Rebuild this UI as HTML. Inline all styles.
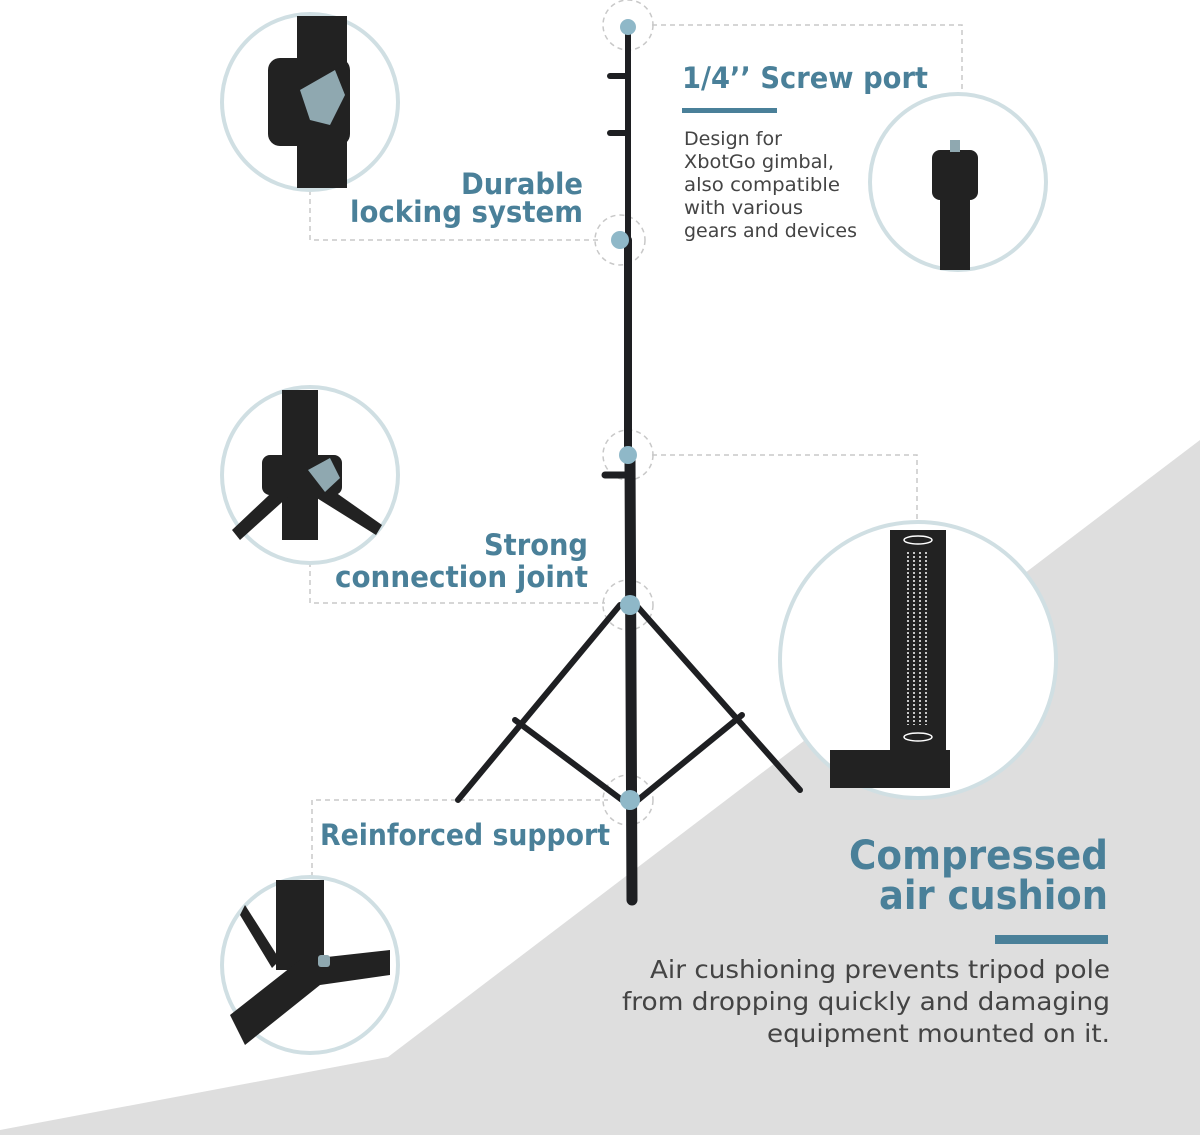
<!DOCTYPE html>
<html><head><meta charset="utf-8"><style>
body{margin:0;background:#fff;}
svg{display:block}
text{font-family:"DejaVu Sans","Liberation Sans",sans-serif}
</style></head><body>
<svg width="1200" height="1135" viewBox="0 0 1200 1135" xmlns="http://www.w3.org/2000/svg">
<rect width="1200" height="1135" fill="#fff"/>
<polygon points="1200,440 1200,1135 0,1135 0,1130 388,1057" fill="#dedede"/>
<!-- dashed connectors -->
<g stroke="#c8c8c8" stroke-width="1.5" stroke-dasharray="5,4" fill="none">
<polyline points="652,25 962,25 962,95"/>
<polyline points="310,190 310,240 598,240"/>
<polyline points="310,562 310,603 605,603"/>
<polyline points="312,877 312,800 608,800"/>
<polyline points="652,455 917,455 917,522"/>
<circle cx="628" cy="25" r="25"/>
<circle cx="620" cy="240" r="25"/>
<circle cx="628" cy="455" r="25"/>
<circle cx="628" cy="605" r="25"/>
<circle cx="628" cy="800" r="25"/>
</g>
<!-- tripod -->
<g stroke="#1e1f22" stroke-linecap="round" fill="none">
<line x1="628" y1="30" x2="628" y2="240" stroke-width="6"/>
<line x1="628" y1="240" x2="628" y2="460" stroke-width="8"/>
<line x1="630" y1="460" x2="632" y2="900" stroke-width="11"/>
<line x1="620" y1="605" x2="458" y2="800" stroke-width="6"/>
<line x1="636" y1="605" x2="800" y2="790" stroke-width="6"/>
<line x1="515" y1="720" x2="622" y2="800" stroke-width="6"/>
<line x1="742" y1="715" x2="638" y2="800" stroke-width="6"/>
<line x1="610" y1="76" x2="628" y2="76" stroke-width="6"/>
<line x1="610" y1="133" x2="628" y2="133" stroke-width="6"/>
<line x1="605" y1="475" x2="628" y2="475" stroke-width="7"/>
</g>
<g fill="#8fb8c8">
<circle cx="628" cy="27" r="8"/>
<circle cx="620" cy="240" r="9"/>
<circle cx="628" cy="455" r="9"/>
<circle cx="630" cy="605" r="10"/>
<circle cx="630" cy="800" r="10"/>
</g>
<!-- circles -->
<g stroke="#d0dfe3" stroke-width="4" fill="#fff">
<circle cx="310" cy="102" r="88"/>
<circle cx="310" cy="475" r="88"/>
<circle cx="310" cy="965" r="88"/>
<circle cx="958" cy="182" r="88"/>
<circle cx="918" cy="660" r="138"/>
</g>
<!-- circle contents -->
<g fill="#222">
<rect x="297" y="16" width="50" height="172"/>
<rect x="268" y="58" width="82" height="88" rx="12"/>
<polygon points="282,390 318,390 318,540 282,540"/>
<polygon points="285,480 232,530 240,540 290,495"/>
<polygon points="318,480 382,525 376,535 312,495"/>
<rect x="262" y="455" width="80" height="40" rx="8"/>
<rect x="276" y="880" width="48" height="90"/>
<polygon points="245,905 280,960 272,968 240,915"/>
<polygon points="230,1015 300,960 390,950 390,975 320,985 245,1045"/>
<rect x="940" y="150" width="30" height="120"/>
<rect x="932" y="150" width="46" height="50" rx="8"/>
<rect x="890" y="530" width="56" height="230"/>
<rect x="830" y="750" width="120" height="38"/>
</g>
<g fill="#8fa8b0">
<polygon points="300,90 335,70 345,95 330,125 310,120"/>
<polygon points="308,470 330,458 340,478 325,492"/>
<rect x="318" y="955" width="12" height="12" rx="3"/>
<rect x="950" y="140" width="10" height="12"/>
</g>
<g stroke="#fff" stroke-width="1.5" fill="none">
<ellipse cx="918" cy="540" rx="14" ry="4"/>
<ellipse cx="918" cy="737" rx="14" ry="4"/>
<line x1="908" y1="552" x2="908" y2="725" stroke-dasharray="2,2"/>
<line x1="914" y1="552" x2="914" y2="725" stroke-dasharray="2,2"/>
<line x1="920" y1="552" x2="920" y2="725" stroke-dasharray="2,2"/>
<line x1="926" y1="552" x2="926" y2="725" stroke-dasharray="2,2"/>
</g>
<!-- text -->
<g fill="#4a8099" font-weight="bold">
<text x="682" y="88" font-size="29" textLength="246" lengthAdjust="spacingAndGlyphs">1/4’’ Screw port</text>
<text x="461" y="194" font-size="29" textLength="122" lengthAdjust="spacingAndGlyphs">Durable</text>
<text x="350" y="222" font-size="29" textLength="233" lengthAdjust="spacingAndGlyphs">locking system</text>
<text x="484" y="555" font-size="29" textLength="104" lengthAdjust="spacingAndGlyphs">Strong</text>
<text x="335" y="587" font-size="29" textLength="253" lengthAdjust="spacingAndGlyphs">connection joint</text>
<text x="320" y="845" font-size="29" textLength="290" lengthAdjust="spacingAndGlyphs">Reinforced support</text>
<text x="849" y="869" font-size="40" textLength="259" lengthAdjust="spacingAndGlyphs">Compressed</text>
<text x="879" y="909" font-size="40" textLength="229" lengthAdjust="spacingAndGlyphs">air cushion</text>
</g>
<rect x="682" y="108" width="95" height="5" fill="#4a8099"/>
<rect x="995" y="935" width="113" height="9" fill="#4a8099"/>
<g fill="#444" font-size="19">
<text x="684" y="145" textLength="98" lengthAdjust="spacingAndGlyphs">Design for</text>
<text x="684" y="168" textLength="150" lengthAdjust="spacingAndGlyphs">XbotGo gimbal,</text>
<text x="684" y="191" textLength="156" lengthAdjust="spacingAndGlyphs">also compatible</text>
<text x="684" y="214" textLength="119" lengthAdjust="spacingAndGlyphs">with various</text>
<text x="684" y="237" textLength="173" lengthAdjust="spacingAndGlyphs">gears and devices</text>
</g>
<g fill="#444" font-size="25">
<text x="650" y="978" textLength="460" lengthAdjust="spacingAndGlyphs">Air cushioning prevents tripod pole</text>
<text x="622" y="1010" textLength="488" lengthAdjust="spacingAndGlyphs">from dropping quickly and damaging</text>
<text x="767" y="1042" textLength="343" lengthAdjust="spacingAndGlyphs">equipment mounted on it.</text>
</g>
</svg>
</body></html>
